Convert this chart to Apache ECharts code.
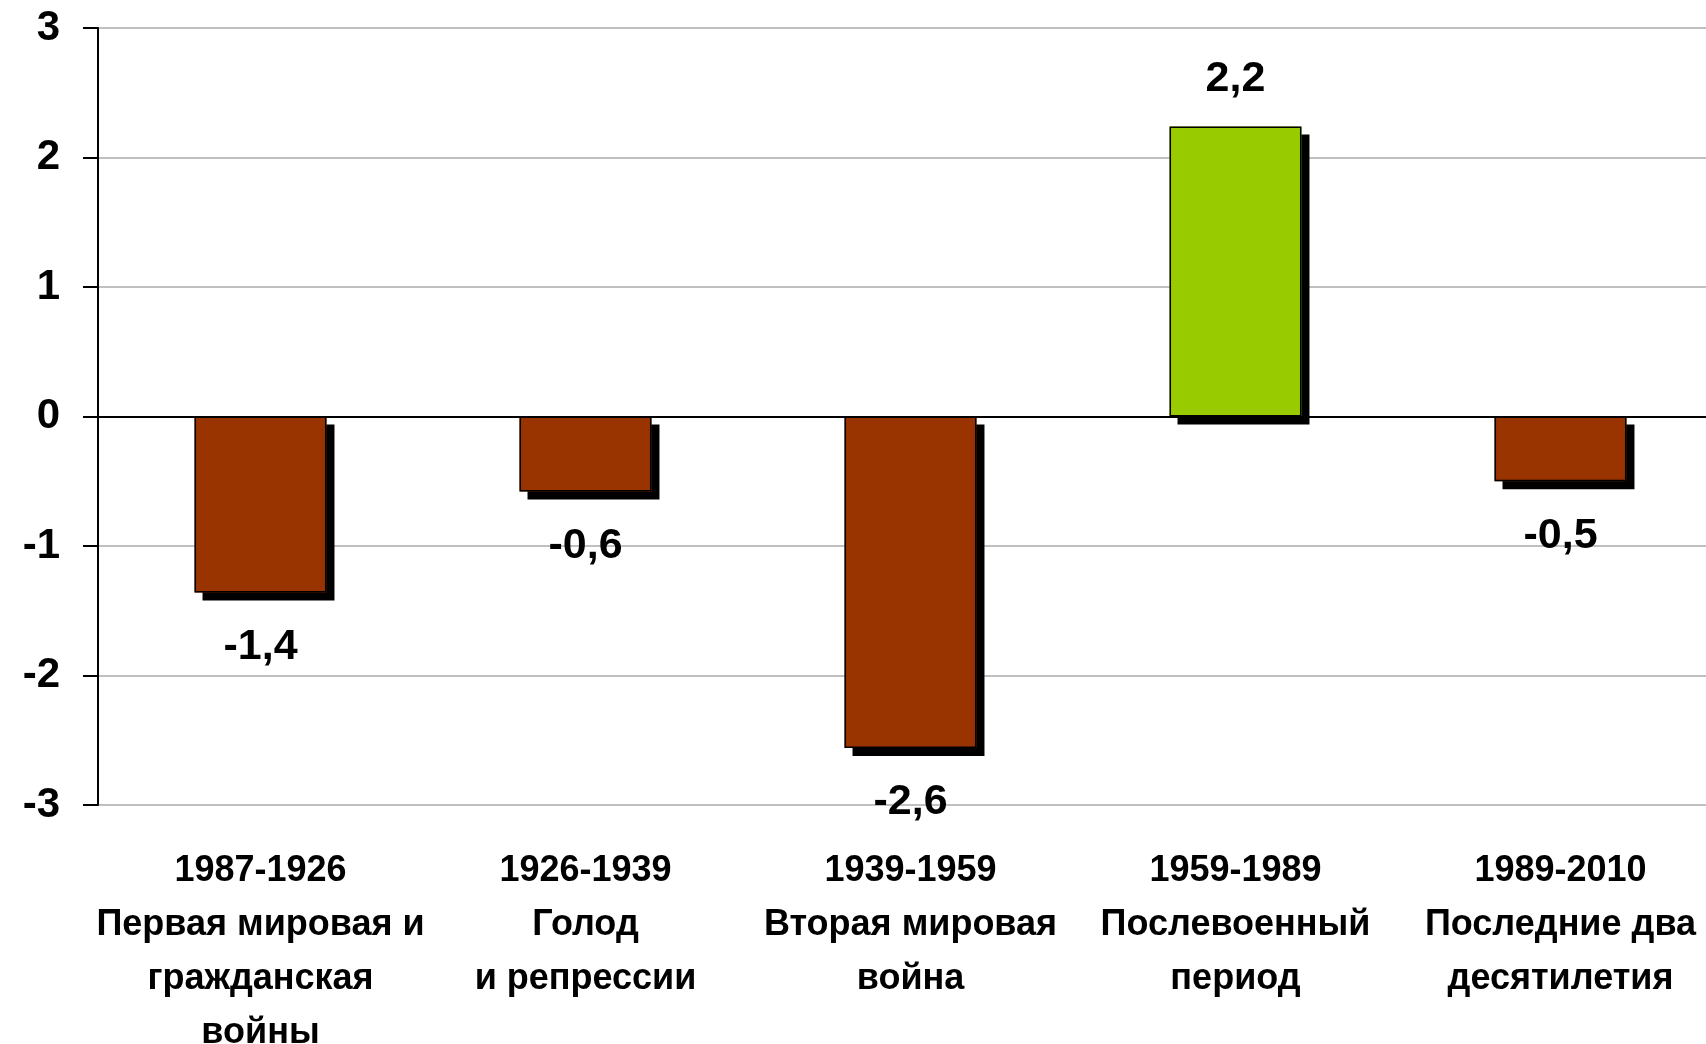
<!DOCTYPE html>
<html>
<head>
<meta charset="utf-8">
<script src="https://cdn.jsdelivr.net/npm/echarts@6/dist/echarts.min.js"></script>
<style>
  html, body { margin: 0; padding: 0; background: #fff; }
  #chart { width: 1706px; height: 1044px; }
</style>
</head>
<body>
<div id="chart"></div>
<script>
// периоды
const periods = ['1987-1926', '1926-1939', '1939-1959', '1959-1989', '1989-2010']
const periodNames = [
  'Первая мировая и\nгражданская\nвойны',
  'Голод\nи репрессии',
  'Вторая мировая\nвойна',
  'Послевоенный\nпериод',
  'Последние два\nдесятилетия',
]
// значения
const values = [-1.36, -0.58, -2.56, 2.24, -0.5]
const yTicks = { min: -3, max: 3, step: 1 }

const font = "'Liberation Sans', Arial, sans-serif"
const categories = periods.map((p, i) => p + '\n' + periodNames[i])

const myChart = echarts.init(document.getElementById('chart'))
myChart.setOption({
  animation: false,
  grid: { left: 98, top: 28, width: 1625, bottom: 239, containLabel: false, outerBoundsMode: 'none' },
  xAxis: {
    type: 'category',
    data: categories,
    axisLine: { show: false, onZero: false },
    axisTick: { show: false },
    axisLabel: {
      interval: 0,
      margin: 39,
      color: '#000',
      fontFamily: font,
      fontWeight: 'bold',
      fontSize: 36,
      lineHeight: 54,
    },
  },
  yAxis: {
    type: 'value',
    min: yTicks.min,
    max: yTicks.max,
    interval: yTicks.step,
    axisLine: { show: true, lineStyle: { color: '#000', width: 2 } },
    axisTick: { show: true, length: 15, lineStyle: { color: '#000', width: 2 } },
    axisLabel: { color: '#000', fontFamily: font, fontWeight: 'bold', fontSize: 42, margin: 38 },
    splitLine: { lineStyle: { color: '#c0c0c0', width: 2 } },
  },
  series: [
    {
      // заливка + тень
      type: 'bar',
      barWidth: '40.6%',
      barGap: '-100%',
      data: values.map((v) => ({
        value: v,
        itemStyle: { color: v < 0 ? '#993300' : '#99cc00' },
        label: { position: v < 0 ? 'bottom' : 'top', distance: v < 0 ? 33 : 26 },
      })),
      itemStyle: {
        borderWidth: 0,
        shadowColor: '#000',
        shadowBlur: 0,
        shadowOffsetX: 8,
        shadowOffsetY: 8,
      },
      label: {
        show: true,
        color: '#000',
        fontFamily: font,
        fontWeight: 'bold',
        fontSize: 43,
        formatter: (p) => p.value.toFixed(1).replace('.', ','),
      },
      markLine: {
        silent: true,
        symbol: 'none',
        label: { show: false },
        lineStyle: { color: '#000', width: 2, type: 'solid' },
        data: [{ yAxis: 0 }],
      },
    },
    {
      // контур
      type: 'bar',
      barWidth: '40.6%',
      barGap: '-100%',
      silent: true,
      z: 3,
      data: values,
      itemStyle: { color: 'rgba(0,0,0,0)', borderColor: '#000', borderWidth: 1.5 },
    },
  ],
})
</script>
</body>
</html>
